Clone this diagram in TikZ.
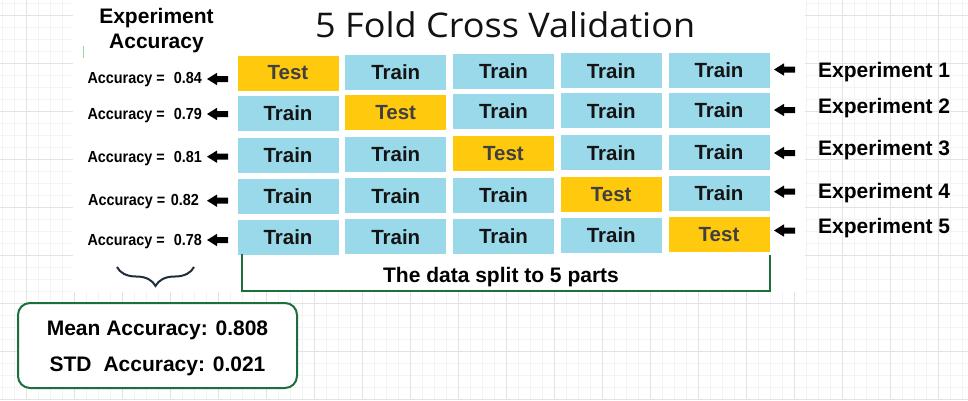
\documentclass[tikz,border=0pt]{standalone}
\usepackage{fontspec}
\setmainfont{Liberation Sans}
\newfontfamily\titlefont{Open Sans}
\usetikzlibrary{arrows.meta,decorations.pathreplacing}
\definecolor{trainblue}{HTML}{99D9EA}
\definecolor{testgold}{HTML}{FFC90E}
\definecolor{grn}{HTML}{1B6F3B}
\definecolor{gridminor}{HTML}{F3F3F3}
\definecolor{gridmajor}{HTML}{E3E3E3}
\definecolor{navy}{HTML}{1F2D3D}
\definecolor{lightgrn}{HTML}{9AD79A}
\tikzset{
  cell/.style={minimum width=101pt, minimum height=35pt, inner sep=0pt,
    font=\fontsize{20.5}{24}\selectfont\bfseries},
  traincell/.style={cell, fill=trainblue, text=black!92},
  testcell/.style={cell, fill=testgold, text=black!75},
  acclabel/.style={anchor=base east, inner sep=0pt,
    font=\fontsize{16}{18}\selectfont\bfseries},
  explabel/.style={anchor=base west, inner sep=0pt,
    font=\fontsize{21}{25}\selectfont\bfseries},
  boldtext/.style={inner sep=0pt, font=\fontsize{21}{25}\selectfont\bfseries},
  grnline/.style={draw=grn, line width=2pt},
  minorgrid/.style={draw=gridminor, line width=0.6pt},
  majorgrid/.style={draw=gridmajor, line width=0.8pt},
  blkarrow/.pic={\fill[black] (0,0) -- (10,-6.2) -- (10,-3) -- (21,-3) -- (21,3) -- (10,3) -- (10,6.2) -- cycle;},
}
\begin{document}
\begin{tikzpicture}[x=1pt,y=-1pt]
\useasboundingbox (0,0) rectangle (968,400);
% background grid
\foreach \k in {0,...,80} { \draw[minorgrid] ({2.7+12*\k},0) -- ({2.7+12*\k},400); }
\foreach \k in {0,...,33} { \draw[minorgrid] (0,{3.3+12*\k}) -- (968,{3.3+12*\k}); }
\foreach \k in {0,...,19} { \draw[majorgrid] ({26.7+48*\k},0) -- ({26.7+48*\k},400); }
\foreach \k in {0,...,8} { \draw[majorgrid] (0,{15.3+48*\k}) -- (968,{15.3+48*\k}); }
% white panel
\fill[white] (73,0) rectangle (805,292);
\draw[lightgrn, line width=1.2pt] (83.3,45.7) -- (83.3,58);
% title
\node[anchor=base west, inner sep=0pt, text=black!93,
  font=\titlefont\fontsize{34}{40}\selectfont] (title) at (315,37.3) {\scalebox{1.06}[1]{5 Fold Cross Validation}};
% header
\node[boldtext, align=center, font=\fontsize{21}{25}\selectfont\bfseries] (hdr) at (156.5,30.5) {Experiment\\Accuracy};
% cells
\foreach \r/\yy in {1/73,2/113,3/155,4/196.5,5/237.5} {
  \foreach \c in {1,...,5} {
    \ifnum\r=\c
      \node[testcell] (c\r\c) at ({288+(\c-1)*107.75},{\yy-(\c-1)*0.75}) {Test};
    \else
      \node[traincell] (c\r\c) at ({288+(\c-1)*107.75},{\yy-(\c-1)*0.75}) {Train};
    \fi
  }
}
% accuracy labels
\node[acclabel] (acc1) at (202,83.3) {\scalebox{0.9}[1]{Accuracy =\hspace{10pt}0.84}};
\node[acclabel] (acc2) at (202,119) {\scalebox{0.9}[1]{Accuracy =\hspace{10pt}0.79}};
\node[acclabel] (acc3) at (202,162.3) {\scalebox{0.9}[1]{Accuracy =\hspace{10pt}0.81}};
\node[acclabel] (acc4) at (199,205.7) {\scalebox{0.9}[1]{Accuracy =\hspace{6pt}0.82}};
\node[acclabel] (acc5) at (202,245.7) {\scalebox{0.9}[1]{Accuracy =\hspace{10pt}0.78}};
% left arrows (tips)
\coordinate (lt1) at (207,79);
\coordinate (lt2) at (207,114);
\coordinate (lt3) at (207,156.7);
\coordinate (lt4) at (207,200.7);
\coordinate (lt5) at (207,240);
\foreach \i in {1,...,5} { \pic at (lt\i) {blkarrow}; }
% experiment labels
\node[explabel] (exp1) at (818,77.3) {Experiment 1};
\node[explabel] (exp2) at (818,113.3) {Experiment 2};
\node[explabel] (exp3) at (818,155.7) {Experiment 3};
\node[explabel] (exp4) at (818,198.3) {Experiment 4};
\node[explabel] (exp5) at (818,233.3) {Experiment 5};
% right arrows (tips)
\coordinate (rt1) at (774,69.5);
\coordinate (rt2) at (774,110);
\coordinate (rt3) at (774,153);
\coordinate (rt4) at (774,191.7);
\coordinate (rt5) at (774,230.5);
\foreach \i in {1,...,5} { \pic at (rt\i) {blkarrow}; }
% data split bracket
\draw[grnline] (242,254) -- (242,291) -- (770,291) -- (770,255);
\node[boldtext, anchor=base] (split) at (501,282) {The data split to 5 parts};
% brace
\draw[navy, line width=2pt, decorate, decoration={brace, amplitude=19pt}] (194,267) -- (117,267);
% summary box
\node[draw=grn, line width=2pt, rounded corners=12pt, fill=white,
  minimum width=279pt, minimum height=85pt] (meanbox) at (157.5,345.5) {};
\node[boldtext, align=center, font=\fontsize{21}{36}\selectfont\bfseries] (meantext)
  at ([yshift=-2.8pt]meanbox.center) {Mean Accuracy: 0.808\\STD\hspace{12pt}Accuracy: 0.021};
\end{tikzpicture}
\end{document}
